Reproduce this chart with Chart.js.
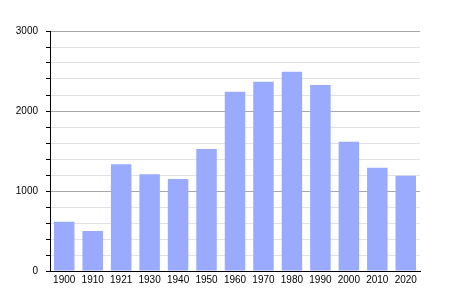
<!DOCTYPE html>
<html>
<head>
<meta charset="utf-8">
<script src="https://cdn.jsdelivr.net/npm/chart.js@4/dist/chart.umd.min.js"></script>
<style>
  html, body { margin: 0; padding: 0; background: #fff; }
  canvas { display: block; }
</style>
</head>
<body>
<canvas id="population" width="450" height="300"></canvas>
<script>
// population by census year
const years = ['1900', '1910', '1921', '1930', '1940', '1950', '1960', '1970', '1980', '1990', '2000', '2010', '2020'];
const population = [615, 500, 1335, 1210, 1150, 1525, 2240, 2365, 2490, 2325, 1615, 1290, 1190];
const yMax = 3000;
const yStep = 200;
const yLabelStep = 1000;

const canvas = document.getElementById('population');

new Chart(canvas, {
    type: 'bar',
    data: {
        labels: years,
        datasets: [{
            data: population,
            backgroundColor: 'rgb(153, 170, 255)',
            borderWidth: 0,
            barPercentage: 0.72,
            categoryPercentage: 1
        }]
    },
    options: {
        responsive: false,
        animation: false,
        layout: {
            padding: { left: 0, right: 30, top: 31, bottom: 0 }
        },
        plugins: {
            legend: { display: false },
            tooltip: { enabled: false }
        },
        scales: {
            x: {
                grid: {
                    display: true,
                    drawOnChartArea: false,
                    drawTicks: false
                },
                border: { color: '#000', width: 1 },
                ticks: {
                    color: '#000',
                    padding: 3,
                    font: { family: 'Liberation Sans', size: 10 },
                    maxRotation: 0,
                    autoSkip: false
                },
                afterFit: (scale) => { scale.height = 29; }
            },
            y: {
                min: 0,
                max: yMax,
                grid: {
                    color: (ctx) => ctx.tick && ctx.tick.value % yLabelStep === 0 ? '#a8a8a8' : '#e2e2e2',
                    tickColor: '#000',
                    tickLength: 4
                },
                border: { color: '#000', width: 1 },
                ticks: {
                    stepSize: yStep,
                    autoSkip: false,
                    maxTicksLimit: 100,
                    color: '#000',
                    padding: 8,
                    font: { family: 'Liberation Sans', size: 10 },
                    callback: (value) => value % yLabelStep === 0 ? value : ''
                },
                afterFit: (scale) => { scale.width = 50; }
            }
        }
    }
});
</script>
</body>
</html>
